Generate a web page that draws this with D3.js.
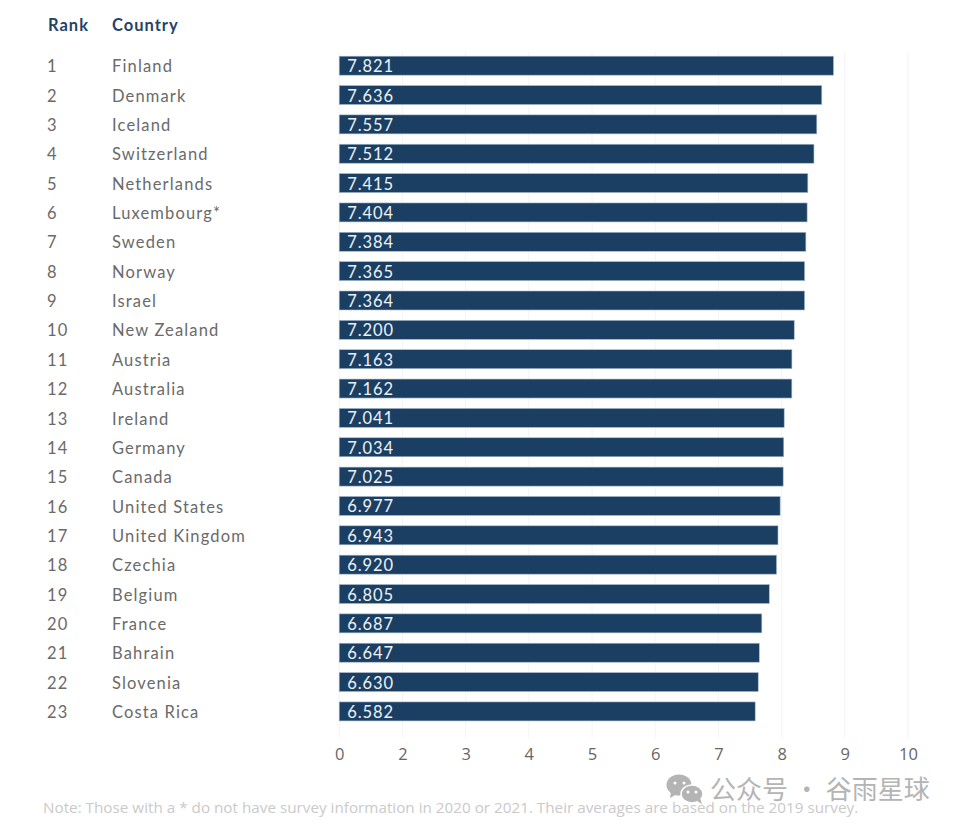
<!DOCTYPE html>
<html><head><meta charset="utf-8">
<script src="https://cdn.jsdelivr.net/npm/d3@7/dist/d3.min.js"></script>
<style>html,body{margin:0;padding:0;background:#fff}svg{display:block}</style>
</head><body><div id="chart"></div>
<script>
const ranks = d3.range(1, 24);
const countries = ["Finland","Denmark","Iceland","Switzerland","Netherlands","Luxembourg*","Sweden","Norway","Israel","New Zealand","Austria","Australia","Ireland","Germany","Canada","United States","United Kingdom","Czechia","Belgium","France","Bahrain","Slovenia","Costa Rica"];
const scores = [7.821,7.636,7.557,7.512,7.415,7.404,7.384,7.365,7.364,7.200,7.163,7.162,7.041,7.034,7.025,6.977,6.943,6.920,6.805,6.687,6.647,6.630,6.582];
const tickPositions = [0,1,2,3,4,5,6,7,8,9];
const tickLabels = ["0","2","3","4","5","6","7","8","9","10"];
const noteText = "Note: Those with a * do not have survey information in 2020 or 2021. Their averages are based on the 2019 survey.";
const watermarkText = "公众号 · 谷雨星球";

const labelFont = "Lato, 'Open Sans', sans-serif";
const tickFont = "'Open Sans', sans-serif";
const svg = d3.select("#chart").append("svg").attr("width",960).attr("height",828);

const x = d3.scaleLinear().domain([0,9]).range([339.2,908]);
const y = d3.scaleBand().domain(countries).range([51,726.1]).paddingInner(0.353).paddingOuter(0.1765);

// grid
svg.append("g").selectAll("line").data(tickPositions).join("line")
  .attr("x1",d=>x(d)).attr("x2",d=>x(d)).attr("y1",52).attr("y2",738)
  .attr("stroke","#f4f4f4").attr("stroke-width",1);

// bars
svg.append("g").selectAll("rect").data(scores).join("rect")
  .attr("x",x(0)).attr("y",(d,i)=>y(countries[i]))
  .attr("width",d=>x(d)-x(0)).attr("height",y.bandwidth())
  .attr("fill","#1a3f63").attr("stroke","#a9bccd").attr("stroke-width",0.6);

// value labels
svg.append("g").selectAll("text").data(scores).join("text")
  .attr("x",x(0)+8).attr("y",(d,i)=>y(countries[i])+y.bandwidth()/2+6.5)
  .attr("fill","#eef2f5").attr("font-family",labelFont).attr("font-size",16.5).attr("letter-spacing",0.9)
  .text(d=>d.toFixed(3));

// row labels
const rowText = (sel,px)=>sel.attr("x",px).attr("y",(d,i)=>y(countries[i])+y.bandwidth()/2+6.6)
  .attr("fill","#6a6a6a").attr("font-family",labelFont).attr("font-size",16.5).attr("letter-spacing",1.15);
svg.append("g").selectAll("text").data(ranks).join("text").call(rowText,47).text(d=>d);
svg.append("g").selectAll("text").data(countries).join("text").call(rowText,112).text(d=>d);

// headers
svg.append("g").selectAll("text").data([["Rank",48],["Country",112]]).join("text")
  .attr("x",d=>d[1]).attr("y",31).attr("fill","#1f4468").attr("font-family",labelFont)
  .attr("font-size",16.5).attr("font-weight",700).attr("letter-spacing",1).text(d=>d[0]);

// axis
const axis = d3.axisBottom(x).tickValues(tickPositions).tickSize(0).tickPadding(0).tickFormat((d,i)=>tickLabels[i]);
const ax = svg.append("g").attr("transform","translate(0,748)").call(axis);
ax.select(".domain").remove();
ax.selectAll("text").attr("fill","#666").attr("font-family",tickFont).attr("font-size",16.5).attr("dy","0.71em");

// note
svg.append("text").attr("x",43).attr("y",813).attr("fill","#cacaca").attr("font-family",tickFont)
  .attr("font-size",15.25).text(noteText);

// watermark
const wm = svg.append("g").attr("fill","#b4b4b4");
wm.append("ellipse").attr("cx",679).attr("cy",785).attr("rx",12.5).attr("ry",10.5);
wm.append("path").attr("d","M671,792 L670,798 L677,794 Z");
wm.append("ellipse").attr("cx",692).attr("cy",794).attr("rx",11).attr("ry",9).attr("stroke","#fff").attr("stroke-width",1.5);
wm.append("path").attr("d","M697,801 L702,804 L700,798 Z");
wm.selectAll("circle").data([[675,783],[684,783],[688,792],[696,792]]).join("circle")
  .attr("cx",d=>d[0]).attr("cy",d=>d[1]).attr("r",1.5).attr("fill","#fff");
wm.append("text").attr("x",710).attr("y",799).attr("font-family","'Noto Sans CJK SC'").attr("font-size",26)
  .text(watermarkText);
</script></body></html>
